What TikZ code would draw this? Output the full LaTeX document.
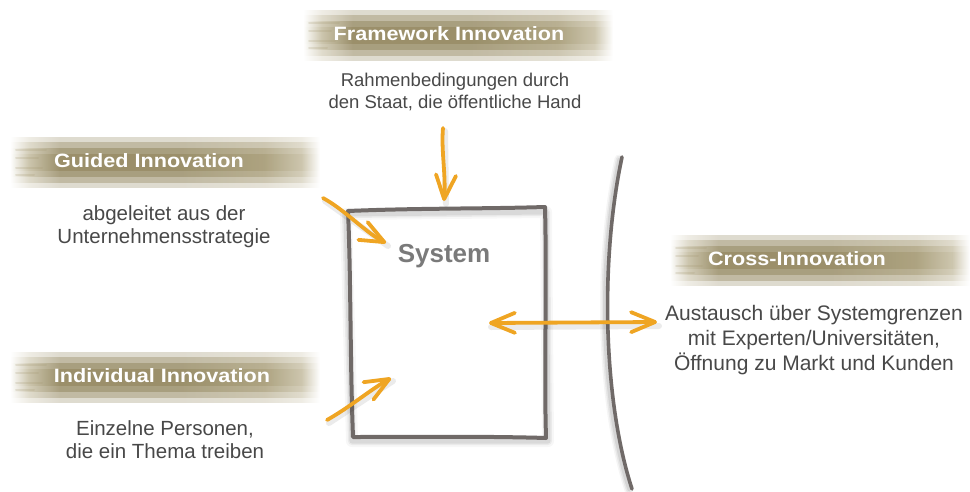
\documentclass[tikz,border=0pt]{standalone}
\usepackage{fontspec}
\setmainfont{Liberation Sans}
\usetikzlibrary{arrows.meta}

\definecolor{brushdark}{RGB}{138,125,82}
\definecolor{brushmid}{RGB}{160,148,108}
\definecolor{brushlight}{RGB}{196,188,160}
\definecolor{arrowc}{RGB}{239,165,35}
\definecolor{linec}{RGB}{112,106,104}
\definecolor{textc}{RGB}{72,72,72}
\definecolor{systemc}{RGB}{122,122,122}

% horizontal brush profile: fades in on the left, dark body, lighter tail on the right
\pgfdeclarehorizontalshading{brush}{100bp}{color(0bp)=(white); color(25bp)=(white);
  color(28bp)=(brushlight); color(33bp)=(brushdark); color(52bp)=(brushdark);
  color(66bp)=(brushmid); color(72bp)=(brushlight); color(75bp)=(white); color(100bp)=(white)}

% wide bold lettering for the banner titles
\newcommand\widehead[1]{\scalebox{1.12}[1]{#1}}

\tikzset{
  brushpic/.pic={
    \foreach \h/\o in {25/0.28, 20/0.35, 14/0.45, 8/0.45}
      \shade[shading=brush, opacity=\o] (-\w,-\h) rectangle (\w,\h);
    \foreach \yy/\ll in {-12/30, -4/22, 6/26, 13/18}
      \draw[brushmid, opacity=0.2, line width=2pt, line cap=round]
        (-\w+6,\yy) -- (-\w+6+\ll,\yy);
  },
  head/.style={font=\bfseries\fontsize{19.3}{23}\selectfont, text=white, inner sep=0pt},
  desc/.style={font=\fontsize{20.5}{23}\selectfont, text=textc, align=center, inner sep=0pt},
  barb/.tip={Straight Barb[length=24pt, width=20pt, line cap=round, line join=round]},
  arr/.style={draw=arrowc, line width=3.8pt, line cap=round, line join=round, -barb},
  dblarr/.style={arr, barb-barb},
  arrshadow/.style={draw=black, opacity=0.08, line width=6pt, line cap=round},
  boxline/.style={draw=linec, line width=4pt, line join=round, line cap=round},
}

\begin{document}
\begin{tikzpicture}[x=1pt, y=-1pt]
\useasboundingbox (0,0) rectangle (970,491);

% brush banners
\def\w{155}
\pic at (458,35) {brushpic};
\pic at (165,162) {brushpic};
\pic at (165,377) {brushpic};
\def\w{150}
\pic at (820,260) {brushpic};

% headings
\node[head] (fwh) at (449,34) {\widehead{Framework Innovation}};
\node[head] (gih) at (149,161) {\widehead{Guided Innovation}};
\node[head] (iih) at (162,376) {\widehead{Individual Innovation}};
\node[head] (cih) at (797,259) {\widehead{Cross-Innovation}};

% descriptions
\node[desc, font=\fontsize{18.5}{22}\selectfont] (fwd) at (455,92) {Rahmenbedingungen durch\\den Staat, die öffentliche Hand};
\node[desc] (gid) at (164,227) {abgeleitet aus der\\Unternehmensstrategie};
\node[desc] (iid) at (165,440) {Einzelne Personen,\\die ein Thema treiben};
\node[desc, font=\fontsize{21}{25}\selectfont] (cid) at (814,340) {Austausch über Systemgrenzen\\mit Experten/Universitäten,\\Öffnung zu Markt und Kunden};

% system boundary (curved line) with soft shadow
\foreach \s/\o in {9/0.04, 6/0.06, 3/0.08}
  \draw[black, opacity=\o, line width=\s pt, line cap=round]
    (619,159) .. controls (597,262) and (600,402) .. (629,490);
\coordinate (bndtop) at (622,157);
\coordinate (bndbot) at (632,489);
\draw[draw=linec, line width=3.6pt, line cap=round]
  (bndtop) .. controls (600,260) and (603,400) .. (bndbot);

% system box with soft shadow
\foreach \s/\o in {12/0.03, 8/0.05, 5/0.07}
  \draw[black, opacity=\o, line width=\s pt, line join=round]
    (346,214) -- (546,212) -- (548,441) -- (352,441) -- cycle;
\coordinate (btl) at (348,211);
\coordinate (btr) at (545,207);
\coordinate (bbr) at (546,438);
\coordinate (bbl) at (353,437);
\draw[boxline] (btl) .. controls (420,208) and (480,209) .. (btr)
  .. controls (547,290) and (544,370) .. (bbr)
  .. controls (480,436) and (400,437) .. (bbl)
  .. controls (350,360) and (351,280) .. (btl);
\node[font=\bfseries\fontsize{26}{30}\selectfont, text=systemc] (sys) at (444,256) {System};

% arrows
\coordinate (fwA) at (443,128);
\coordinate (fwB) at (444,201);
\coordinate (giA) at (323,198);
\coordinate (giB) at (386,243);
\coordinate (iiA) at (327,420);
\coordinate (iiB) at (391,378);
\coordinate (ciA) at (489,323);
\coordinate (ciB) at (657,322);

\draw[arrshadow] ([shift={(2,3)}]fwA) -- ([shift={(2,3)}]fwB);
\draw[arrshadow] ([shift={(2,3)}]giA) -- ([shift={(2,3)}]giB);
\draw[arrshadow] ([shift={(2,3)}]iiA) -- ([shift={(2,3)}]iiB);
\draw[arrshadow] ([shift={(2,4)}]ciA) -- ([shift={(2,4)}]ciB);

\draw[arr] (fwA) .. controls (441,150) and (446,175) .. (fwB);
\draw[arr] (giA) .. controls (345,210) and (365,232) .. (giB);
\draw[arr] (iiA) .. controls (350,407) and (370,390) .. (iiB);
\draw[dblarr] (ciA) -- (ciB);
\end{tikzpicture}
\end{document}
